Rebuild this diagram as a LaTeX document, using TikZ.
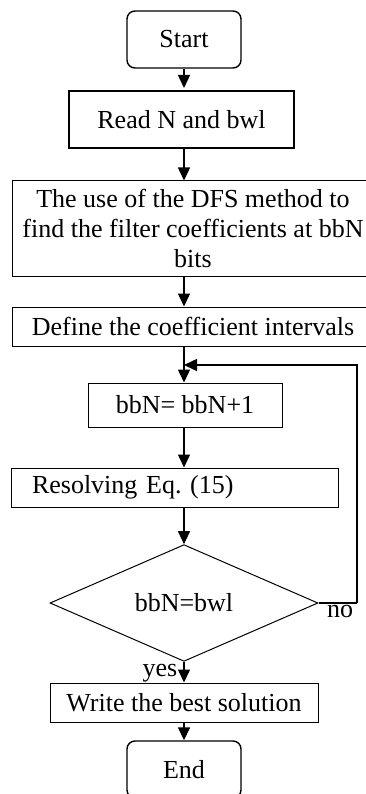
\documentclass[tikz,border=0pt]{standalone}
\usepackage{fontspec}
\setmainfont{Liberation Serif}
\usetikzlibrary{shapes.geometric,arrows.meta}
\tikzset{
  box/.style={draw,line width=1pt,inner sep=0pt,minimum height=39pt},
  term/.style={box,rounded corners=8pt,line width=1.4pt,minimum width=114pt,minimum height=57pt},
  cond/.style={draw,diamond,line width=1pt,inner sep=0pt,minimum width=268pt,minimum height=114pt},
  arr/.style={line width=1.5pt,-{Triangle[width=12pt,length=13pt]}}
}
\frenchspacing
\begin{document}
\begin{tikzpicture}[x=1pt,y=-1pt,font=\fontsize{26}{30}\selectfont]
  \useasboundingbox (0,0) rectangle (365,794);
  \node [term] (start) at (184,39.5) {Start};
  \node [box,line width=1.8pt,minimum width=225pt,minimum height=57pt] (read) at (181.5,119.5) {Read N and bwl};
  \node [box,minimum width=362pt,minimum height=95pt,align=center] (dfs) at (193,228.5)
    {The use of the DFS method to\\find the filter coefficients at bbN\\bits};
  \node [box,minimum width=362pt] (define) at (193,326.5) {Define the coefficient intervals};
  \node [box,minimum width=194pt,minimum height=44pt] (bbn) at (185,405) {bbN= bbN+1};
  \node [box,minimum width=327pt,text width=285pt,inner xsep=21pt,align=left] (resolve) at (174.5,487.5) {Resolving Eq.~(15)};
  \node [cond] (dec) at (184,603) {bbN=bwl};
  \node [box,minimum width=268pt] (write) at (184,702.5) {Write the best solution};
  \node [term] (end) at (184,769.5) {End};
  \coordinate (turn) at (357,603);
  \coordinate (join) at (184,365);
  \draw [arr] (start.south -| 184,0) -- (184,88);
  \draw [arr] (184,148) -- (dfs.north -| 184,0);
  \draw [arr] (dfs.south -| 184,0) -- (define.north -| 184,0);
  \draw [arr] (define.south -| 184,0) -- (bbn.north -| 184,0);
  \draw [arr] (bbn.south -| 184,0) -- (resolve.north -| 184,0);
  \draw [arr] (resolve.south -| 184,0) -- (dec.north);
  \draw [arr] (dec.south) -- (write.north) node [pos=0.55,left,inner sep=0pt,xshift=-6pt] {yes};
  \draw [arr] (write.south) -- (end.north);
  \draw [line width=1.5pt] (dec.east) -- (turn) node [pos=0.05,below right,inner sep=0pt,xshift=6pt,yshift=-1pt] {no};
  \draw [arr] (turn) |- (join);
\end{tikzpicture}
\end{document}
